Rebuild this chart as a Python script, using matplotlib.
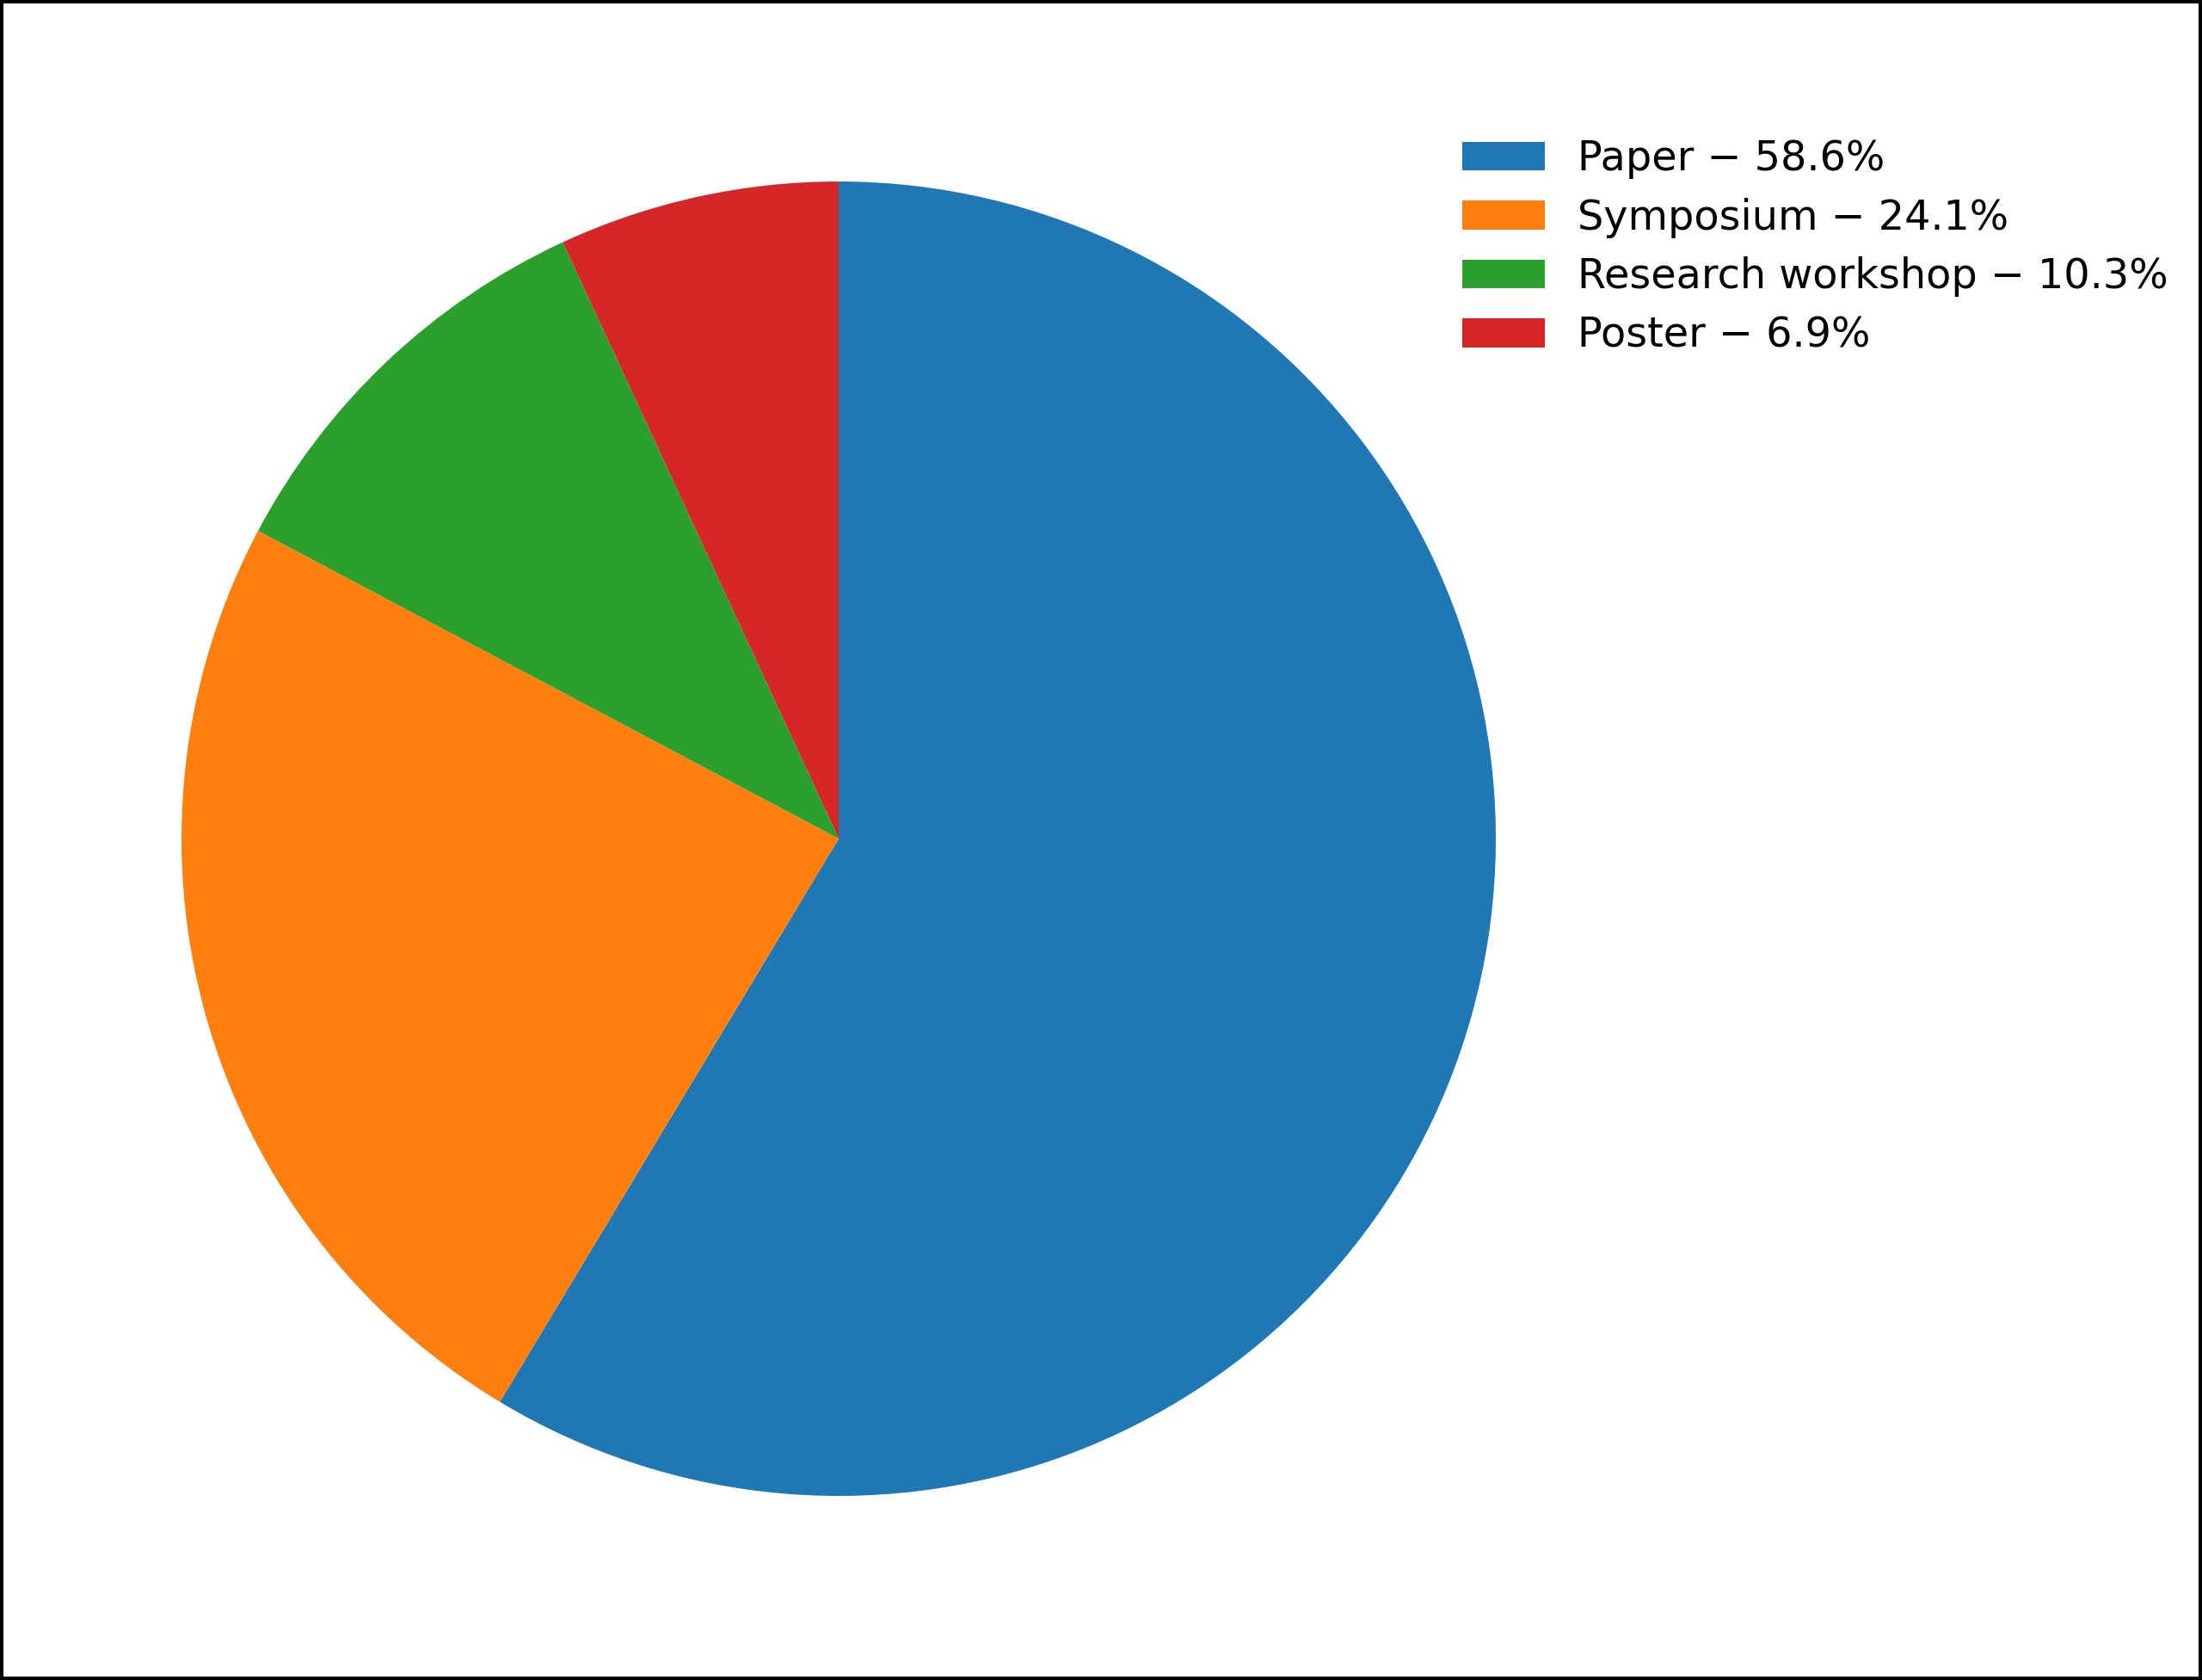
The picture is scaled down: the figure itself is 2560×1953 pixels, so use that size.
import matplotlib
matplotlib.use('Agg')
import matplotlib.pyplot as plt

categories = ['Paper', 'Symposium', 'Research workshop', 'Poster']
counts = [17, 7, 3, 2]
colors = ['#1f77b4', '#ff7f0e', '#2ca02c', '#d62728']

total = sum(counts)
labels = [f'{c} \u2212 {n / total * 100:.1f}%' for c, n in zip(categories, counts)]

W, H, dpi = 2560, 1953, 200
fig = plt.figure(figsize=(W / dpi, H / dpi), dpi=dpi)
fig.patch.set_edgecolor('black')
fig.patch.set_linewidth(2.2)

# pie placed by pixel box: centre (975, 975 from top), radius 764
cx, cy, r = 975, 975, 764
ax = fig.add_axes([(cx - r) / W, (H - cy - r) / H, 2 * r / W, 2 * r / H])
wedges, _ = ax.pie(counts, colors=colors, startangle=90, counterclock=False)
ax.set_xlim(-1, 1)
ax.set_ylim(-1, 1)
ax.set_aspect('equal')

fig.legend(wedges, labels, loc='upper left', bbox_to_anchor=(1681 / W, 1 - 142 / H),
           frameon=False, fontsize=17.2, labelspacing=0.45, borderaxespad=0)

fig.savefig('out.png', dpi=dpi, edgecolor=fig.get_edgecolor())
